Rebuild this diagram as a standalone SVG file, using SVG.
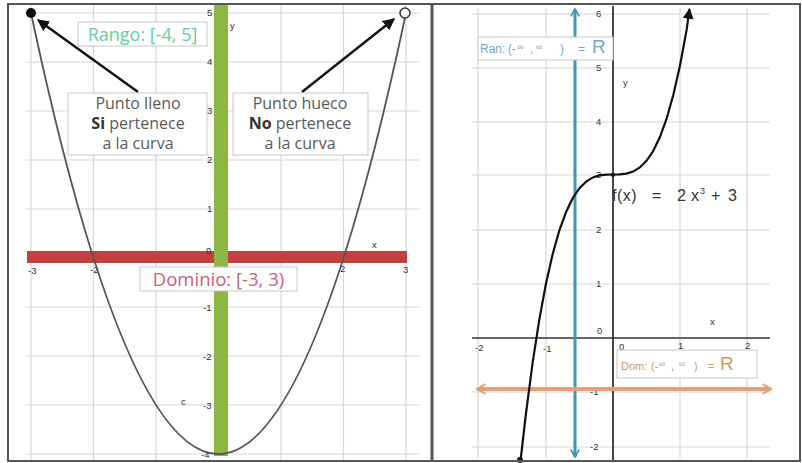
<svg xmlns="http://www.w3.org/2000/svg" width="802" height="463" viewBox="0 0 802 463">
<defs>
<style>
.grid{stroke:#d8d8d8;stroke-width:1.2;fill:none}
.tick{font-family:"Liberation Sans",Arial,sans-serif;font-size:9.5px;fill:#333}
.lbl{font-family:"Open Sans",Lato,sans-serif;font-size:16px;fill:#5a5a5a;text-anchor:middle}
.box{fill:#fff;stroke:#c8c8c8;stroke-width:1}
.curve{fill:none;stroke:#555;stroke-width:1.8}
.ran{font-family:"Liberation Sans",Arial,sans-serif;font-size:12px;fill:#7aa6c4}
.dom{font-family:"Liberation Sans",Arial,sans-serif;font-size:11px;fill:#d29a55}
</style>
<marker id="ah" viewBox="0 0 10 10" refX="9" refY="5" markerWidth="5" markerHeight="5" orient="auto-start-reverse" markerUnits="strokeWidth">
<path d="M0,0 L10,5 L0,10 z" fill="#111"/>
</marker>
<marker id="bluea" viewBox="0 0 10 10" refX="8" refY="5" markerWidth="3.5" markerHeight="3.5" orient="auto-start-reverse" markerUnits="strokeWidth">
<path d="M1,1 L8,5 L1,9" fill="none" stroke="#3a9ab8" stroke-width="1.6"/>
</marker>
<marker id="orana" viewBox="0 0 10 10" refX="8" refY="5" markerWidth="3" markerHeight="3" orient="auto-start-reverse" markerUnits="strokeWidth">
<path d="M1,1 L8,5 L1,9" fill="none" stroke="#e3a174" stroke-width="1.6"/>
</marker>
</defs>
<rect width="802" height="463" fill="#fff"/>

<g id="left-grid">
<path class="grid" d="M31,5V460 M93.5,5V460 M156,5V460 M281,5V460 M343.5,5V460 M406,5V460 M25,13H420 M25,62H420 M25,111H420 M25,160H420 M25,209H420 M25,307H420 M25,356H420 M25,405H420 M25,454H420"/>
</g>
<g id="left-axes">
<rect x="27" y="251" width="380" height="12" fill="#c2413f"/>
<rect x="214" y="5" width="14" height="451" fill="#8cb646"/>
<text class="tick" x="207" y="16">5</text>
<text class="tick" x="207" y="65">4</text>
<text class="tick" x="207" y="114">3</text>
<text class="tick" x="207" y="163">2</text>
<text class="tick" x="207" y="212">1</text>
<text class="tick" x="206" y="254">0</text>
<text class="tick" x="203" y="311">-1</text>
<text class="tick" x="203" y="360">-2</text>
<text class="tick" x="203" y="409">-3</text>
<text class="tick" x="201" y="458">-4</text>
<text class="tick" x="28" y="274">-3</text>
<text class="tick" x="90" y="273">-2</text>
<text class="tick" x="340" y="272">2</text>
<text class="tick" x="403" y="273">3</text>
<text class="tick" x="372" y="248">x</text>
<text class="tick" x="230" y="29">y</text>
<text class="tick" x="181" y="405">c</text>
</g>
<g id="parabola">
<path class="curve" d="M31,13 Q218.5,895 406,13"/>
</g>
<g id="filled-point"><circle cx="31" cy="13" r="5" fill="#111"/></g>
<g id="open-point"><circle cx="405" cy="13" r="5" fill="#fff" stroke="#333" stroke-width="1.5"/></g>

<g id="rango-label">
<rect class="box" x="78" y="22" width="129" height="24"/>
<text x="142.5" y="40.5" font-family="'Open Sans',Lato,sans-serif" font-size="18" fill="#62d09c" text-anchor="middle">Rango: [-4, 5]</text>
</g>
<g id="dominio-label">
<rect class="box" x="140" y="267" width="157" height="24"/>
<text x="218.5" y="285.5" font-family="'Open Sans',Lato,sans-serif" font-size="18.5" fill="#cd6078" text-anchor="middle">Dominio: [-3, 3)</text>
</g>

<g id="connectors">
<line x1="138" y1="92" x2="38" y2="20" stroke="#111" stroke-width="2.4" marker-end="url(#ah)"/>
<line x1="302" y1="92" x2="394" y2="19" stroke="#111" stroke-width="2.4" marker-end="url(#ah)"/>
</g>

<g id="punto-lleno">
<rect class="box" x="68" y="93" width="139" height="62"/>
<text class="lbl" x="138" y="109">Punto lleno</text>
<text class="lbl" x="138" y="129"><tspan font-weight="bold" fill="#333">Si</tspan> pertenece</text>
<text class="lbl" x="138" y="149">a la curva</text>
</g>
<g id="punto-hueco">
<rect class="box" x="233" y="93" width="135" height="62"/>
<text class="lbl" x="300" y="109">Punto hueco</text>
<text class="lbl" x="300" y="129"><tspan font-weight="bold" fill="#333">No</tspan> pertenece</text>
<text class="lbl" x="300" y="149">a la curva</text>
</g>

<g id="right-grid">
<path class="grid" d="M478,8V458 M546,8V458 M680,8V458 M747,8V458 M472,14H770 M472,68H770 M472,122H770 M472,175H770 M472,230H770 M472,284H770 M472,392H770 M472,447H770"/>
</g>
<g id="right-axes">
<line x1="472" y1="338" x2="770" y2="338" stroke="#333" stroke-width="1.5"/>
<line x1="613" y1="6" x2="613" y2="461" stroke="#333" stroke-width="1.8"/>
<text class="tick" x="596" y="17">6</text>
<text class="tick" x="596" y="71">5</text>
<text class="tick" x="596" y="125">4</text>
<text class="tick" x="596" y="178">3</text>
<text class="tick" x="596" y="233">2</text>
<text class="tick" x="596" y="287">1</text>
<text class="tick" x="597" y="334">0</text>
<text class="tick" x="590" y="395">-1</text>
<text class="tick" x="590" y="450">-2</text>
<text class="tick" x="475" y="351">-2</text>
<text class="tick" x="543" y="352">-1</text>
<text class="tick" x="619" y="350">0</text>
<text class="tick" x="678" y="349">1</text>
<text class="tick" x="745" y="349">2</text>
<text class="tick" x="710" y="325" font-size="11">x</text>
<text class="tick" x="623" y="86" font-size="11">y</text>
</g>
<g id="range-arrow">
<line x1="575" y1="9" x2="575" y2="457" stroke="#3a9ab8" stroke-width="3" marker-start="url(#bluea)" marker-end="url(#bluea)"/>
</g>
<g id="domain-arrow">
<line x1="477" y1="389" x2="771" y2="389" stroke="#e3a174" stroke-width="4" marker-start="url(#orana)" marker-end="url(#orana)"/>
</g>
<g id="cubic">
<path d="M520.5,461 L525.9,414 L532.6,362.9 L539.3,319.6 L546,283.5 L552.7,254 L559.4,230.3 L566.1,211.9 L572.8,198 L579.5,188.1 L586.2,181.5 L592.9,177.4 L599.6,175.4 L606.3,174.6 L613,174.5 L619.7,174.4 L626.4,173.6 L633.1,171.6 L639.8,167.5 L646.5,160.9 L653.2,151 L659.9,137.1 L666.6,118.7 L673.3,95 L680,65.5 L686.7,29.4 L689.5,9" fill="none" stroke="#111" stroke-width="2.2" marker-end="url(#ah)"/>
<circle cx="520" cy="460" r="3" fill="#111"/>
<circle cx="613" cy="175" r="2" fill="#111"/>
<text y="201" font-family="'Liberation Sans',Arial,sans-serif" font-size="16" fill="#333"><tspan x="612" letter-spacing="0.5">f(x)</tspan><tspan x="652">=</tspan><tspan x="677">2</tspan><tspan x="691">x</tspan><tspan x="700" dy="-7" font-size="9">3</tspan><tspan x="711" dy="7">+</tspan><tspan x="728">3</tspan></text>
</g>
<g id="ran-label">
<rect class="box" x="478" y="37" width="135" height="23"/>
<text y="53" class="ran"><tspan x="480">Ran:</tspan><tspan x="508">(-</tspan><tspan x="517" dy="-3" font-size="9">∞</tspan><tspan x="530" dy="3">,</tspan><tspan x="536" dy="-3" font-size="9">∞</tspan><tspan x="560" dy="3">)</tspan><tspan x="578">=</tspan><tspan x="592" font-size="19">R</tspan></text>
</g>
<g id="dom-label">
<rect class="box" x="617" y="350" width="140" height="28"/>
<text y="370" class="dom"><tspan x="621">Dom:</tspan><tspan x="651">(-</tspan><tspan x="659" dy="-3" font-size="9">∞</tspan><tspan x="671" dy="3">,</tspan><tspan x="679" dy="-3" font-size="9">∞</tspan><tspan x="694" dy="3">)</tspan><tspan x="708">=</tspan><tspan x="720" font-size="19">R</tspan></text>
</g>

<g id="frame" fill="none" stroke="#555">
<rect x="8" y="4" width="792" height="457" stroke-width="2"/>
<line x1="432" y1="4" x2="432" y2="461" stroke-width="3"/>
</g>
</svg>
